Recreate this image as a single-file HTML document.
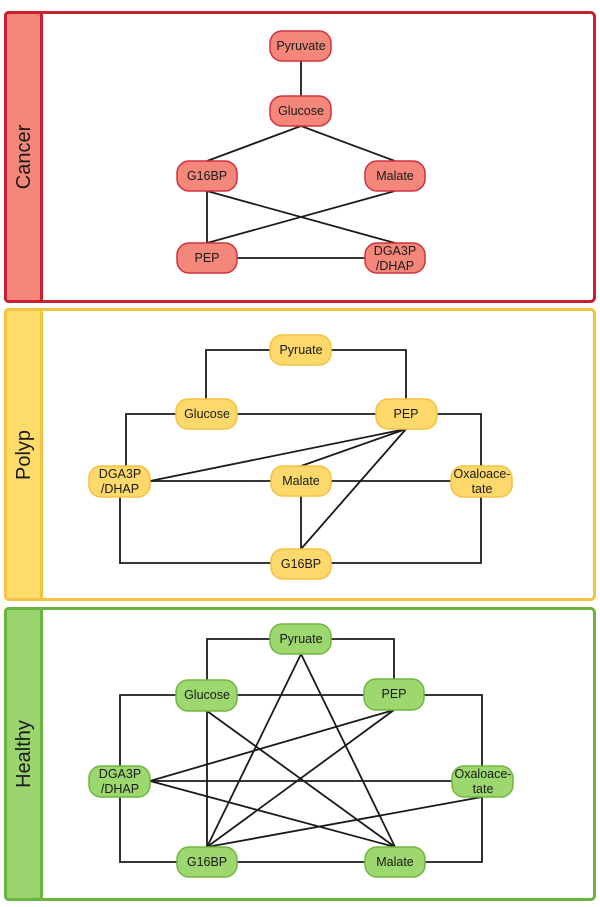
<!DOCTYPE html>
<html><head><meta charset="utf-8"><style>
html,body{margin:0;padding:0;background:#fff;}
svg{display:block;}
text{font-family:"Liberation Sans",sans-serif;}
</style></head><body>
<svg width="600" height="907" viewBox="0 0 600 907" xmlns="http://www.w3.org/2000/svg">
<defs>
<style>
.e{stroke:#1a1a1a;stroke-width:1.8;fill:none;}
.t{font-size:12.5px;fill:#1a1a1a;text-anchor:middle;}
.rn{fill:#f4877a;stroke:#d0323f;stroke-width:1.5;}
.yn{fill:#fdd86a;stroke:#f4c244;stroke-width:1.5;}
.gn{fill:#9dd86f;stroke:#72b644;stroke-width:1.5;}
.lab{font-size:20px;fill:#1a1a1a;text-anchor:middle;}
</style>
</defs>

<!-- Cancer panel -->
<rect x="5.5" y="12.5" width="589" height="289" rx="4" fill="#fff" stroke="#c8202f" stroke-width="3"/>
<rect x="5.5" y="12.5" width="36" height="289" rx="3" fill="#f4877a" stroke="#c8202f" stroke-width="3"/>
<text class="lab" transform="translate(30,157) rotate(-90)">Cancer</text>

<line class="e" x1="301" y1="61" x2="301" y2="96"/>
<line class="e" x1="301" y1="126" x2="207" y2="161"/>
<line class="e" x1="301" y1="126" x2="395" y2="161"/>
<line class="e" x1="207" y1="191" x2="207" y2="243"/>
<line class="e" x1="207" y1="191" x2="395" y2="243"/>
<line class="e" x1="395" y1="191" x2="207" y2="243"/>
<line class="e" x1="237" y1="258" x2="365" y2="258"/>

<rect class="rn" x="270" y="31" width="61" height="30" rx="12"/><text class="t" x="301" y="50">Pyruvate</text>
<rect class="rn" x="270" y="96" width="61" height="30" rx="12"/><text class="t" x="301" y="115">Glucose</text>
<rect class="rn" x="177" y="161" width="60" height="30" rx="12"/><text class="t" x="207" y="180">G16BP</text>
<rect class="rn" x="365" y="161" width="60" height="30" rx="12"/><text class="t" x="395" y="180">Malate</text>
<rect class="rn" x="177" y="243" width="60" height="30" rx="12"/><text class="t" x="207" y="262">PEP</text>
<rect class="rn" x="365" y="243" width="60" height="30" rx="12"/><text class="t" x="395" y="255">DGA3P</text><text class="t" x="395" y="270">/DHAP</text>

<!-- Polyp panel -->
<rect x="5.5" y="309.5" width="589" height="290" rx="4" fill="#fff" stroke="#f5c242" stroke-width="3"/>
<rect x="5.5" y="309.5" width="36" height="290" rx="3" fill="#fddc6c" stroke="#f5c242" stroke-width="3"/>
<text class="lab" transform="translate(30,455) rotate(-90)">Polyp</text>

<polyline class="e" points="270,350 206,350 206,399"/>
<polyline class="e" points="330,350 406,350 406,399"/>
<polyline class="e" points="176,414 126,414 126,466"/>
<line class="e" x1="237" y1="414" x2="376" y2="414"/>
<polyline class="e" points="437,414 481,414 481,466"/>
<polyline class="e" points="120,497 120,563 271,563"/>
<polyline class="e" points="481,497 481,563 331,563"/>
<line class="e" x1="150" y1="481" x2="271" y2="481"/>
<line class="e" x1="331" y1="481" x2="451" y2="481"/>
<line class="e" x1="301" y1="496" x2="301" y2="549"/>
<line class="e" x1="406" y1="429" x2="150" y2="481"/>
<line class="e" x1="406" y1="429" x2="301" y2="466"/>
<line class="e" x1="406" y1="429" x2="301" y2="549"/>

<rect class="yn" x="270" y="335" width="61" height="30" rx="12"/><text class="t" x="301" y="354">Pyruate</text>
<rect class="yn" x="176" y="399" width="61" height="30" rx="12"/><text class="t" x="207" y="418">Glucose</text>
<rect class="yn" x="376" y="399" width="61" height="30" rx="12"/><text class="t" x="406" y="418">PEP</text>
<rect class="yn" x="89" y="466" width="61" height="31" rx="12"/><text class="t" x="120" y="478">DGA3P</text><text class="t" x="120" y="493">/DHAP</text>
<rect class="yn" x="271" y="466" width="60" height="30" rx="12"/><text class="t" x="301" y="485">Malate</text>
<rect class="yn" x="451" y="466" width="61" height="31" rx="12"/><text class="t" x="482" y="478">Oxaloace-</text><text class="t" x="482" y="493">tate</text>
<rect class="yn" x="271" y="549" width="60" height="30" rx="12"/><text class="t" x="301" y="568">G16BP</text>

<!-- Healthy panel -->
<rect x="5.5" y="608.5" width="589" height="291" rx="4" fill="#fff" stroke="#6db33f" stroke-width="3"/>
<rect x="5.5" y="608.5" width="36" height="291" rx="3" fill="#9bd46f" stroke="#6db33f" stroke-width="3"/>
<text class="lab" transform="translate(30,754) rotate(-90)">Healthy</text>

<polyline class="e" points="270,639 207,639 207,680"/>
<polyline class="e" points="331,639 394,639 394,680"/>
<polyline class="e" points="176,695 120,695 120,766"/>
<line class="e" x1="237" y1="695" x2="364" y2="695"/>
<polyline class="e" points="424,695 482,695 482,766"/>
<polyline class="e" points="120,797 120,862 177,862"/>
<polyline class="e" points="482,797 482,862 425,862"/>
<line class="e" x1="237" y1="862" x2="365" y2="862"/>
<line class="e" x1="150" y1="781" x2="452" y2="781"/>
<line class="e" x1="207" y1="711" x2="207" y2="847"/>
<line class="e" x1="301" y1="654" x2="207" y2="847"/>
<line class="e" x1="301" y1="654" x2="395" y2="847"/>
<line class="e" x1="207" y1="711" x2="395" y2="847"/>
<line class="e" x1="394" y1="710" x2="150" y2="781"/>
<line class="e" x1="394" y1="710" x2="207" y2="847"/>
<line class="e" x1="150" y1="781" x2="395" y2="847"/>
<line class="e" x1="482" y1="797" x2="207" y2="847"/>

<rect class="gn" x="270" y="624" width="61" height="30" rx="12"/><text class="t" x="301" y="643">Pyruate</text>
<rect class="gn" x="176" y="680" width="61" height="31" rx="12"/><text class="t" x="207" y="699">Glucose</text>
<rect class="gn" x="364" y="679" width="60" height="31" rx="12"/><text class="t" x="394" y="698">PEP</text>
<rect class="gn" x="89" y="766" width="61" height="31" rx="12"/><text class="t" x="120" y="778">DGA3P</text><text class="t" x="120" y="793">/DHAP</text>
<rect class="gn" x="452" y="766" width="61" height="31" rx="12"/><text class="t" x="483" y="778">Oxaloace-</text><text class="t" x="483" y="793">tate</text>
<rect class="gn" x="177" y="847" width="60" height="30" rx="12"/><text class="t" x="207" y="866">G16BP</text>
<rect class="gn" x="365" y="847" width="60" height="30" rx="12"/><text class="t" x="395" y="866">Malate</text>
</svg>
</body></html>
